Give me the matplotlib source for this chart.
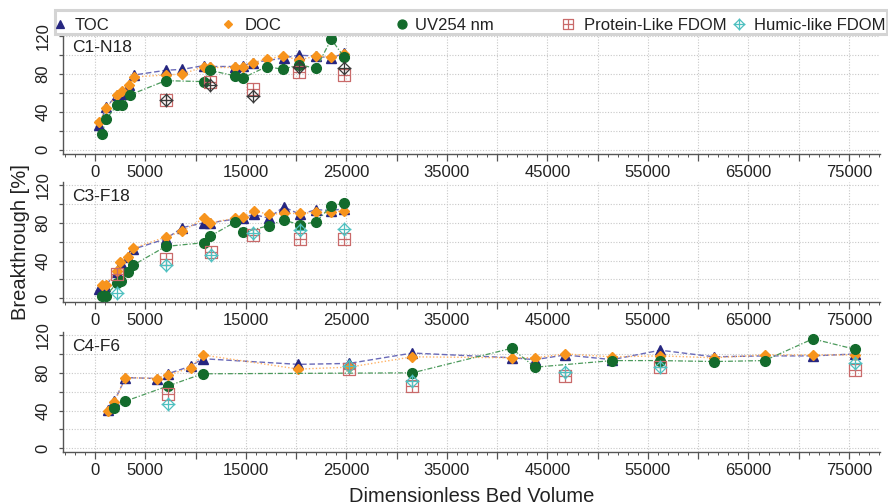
import matplotlib
matplotlib.use("Agg")
import matplotlib.pyplot as plt
from matplotlib.path import Path
from matplotlib.lines import Line2D
from matplotlib.patches import Rectangle
from matplotlib.ticker import MultipleLocator, FuncFormatter

plt.rcParams['font.family'] = ['Liberation Sans', 'DejaVu Sans']

# ---------------- data ----------------
panel_names = ["C1-N18", "C3-F18", "C4-F6"]
series_names = ["TOC", "DOC", "UV254 nm", "Protein-Like FDOM", "Humic-like FDOM"]

# C1-N18
c1_toc_x = [430, 1100, 2230, 2670, 3430, 3900, 7030, 8700, 10850, 11400, 13970, 14730, 15670, 18770, 20270, 22000, 23500, 24770]
c1_toc_y = [26, 45, 58, 59, 68, 79, 84, 85, 89, 88, 88, 89, 92, 97, 100, 99, 97, 102]
c1_doc_x = [430, 1100, 2230, 2670, 3430, 3900, 7030, 8700, 10850, 11400, 13970, 14730, 15670, 17100, 18670, 20270, 22000, 23500, 24770]
c1_doc_y = [29, 44, 58, 62, 68, 77, 79, 80, 88, 87, 87, 87, 92, 96, 99, 95, 99, 98, 101]
c1_uv_x = [670, 1100, 2170, 2670, 3500, 7030, 10830, 11400, 13970, 14730, 17100, 18670, 20270, 22000, 23500, 24770]
c1_uv_y = [16, 32, 47, 47, 58, 73, 72, 84, 78, 76, 88, 85, 90, 86, 117, 98]
c1_fd_x = [7030, 11400, 15670, 20270, 24770]
c1_prot_y = [53, 72, 64, 82, 79]
c1_hum_y = [53, 68, 57, 88, 86]

# C3-F18
c3_toc_x = [430, 1000, 2170, 2570, 3330, 3770, 7030, 8700, 10850, 11400, 13970, 14730, 15770, 17270, 18770, 20370, 22000, 23500, 24770]
c3_toc_y = [10, 13, 28, 37, 44, 52, 63, 75, 80, 80, 84, 85, 89, 85, 97, 89, 94, 93, 95]
c3_doc_x = [670, 1100, 2170, 2500, 3330, 3770, 7030, 8700, 10850, 11400, 13970, 14730, 15770, 17270, 18770, 20370, 22000, 23500, 24770]
c3_doc_y = [14, 14, 29, 38, 44, 53, 65, 71, 85, 80, 85, 86, 93, 89, 90, 90, 91, 91, 93]
c3_uv_x = [670, 1100, 2170, 2570, 3330, 3770, 7030, 10870, 11470, 13970, 14730, 17270, 18770, 20370, 22000, 23500, 24770]
c3_uv_y = [3, 3, 16, 18, 28, 35, 55, 59, 66, 81, 70, 77, 83, 78, 81, 98, 101]
c3_fd_x = [2170, 7030, 11500, 15730, 20370, 24770]
c3_prot_y = [26, 42, 49, 67, 63, 63]
c3_hum_y = [6, 35, 46, 69, 72, 74]

# C4-F6
c4_toc_x = [1330, 1930, 3030, 6170, 7230, 9500, 10700, 20230, 25270, 31570, 41430, 43770, 46770, 51430, 56230, 61570, 66600, 71400, 75600]
c4_toc_y = [41, 50, 75, 74, 79, 87, 95, 89, 90, 101, 96, 94, 99, 94, 104, 97, 98, 98, 100]
c4_doc_x = [1330, 1930, 3030, 6170, 7230, 9500, 10700, 20230, 25270, 31570, 41430, 43770, 46770, 51430, 56230, 61570, 66600, 71400, 75600]
c4_doc_y = [40, 49, 75, 74, 78, 85, 99, 84, 86, 97, 96, 96, 100, 97, 98, 96, 99, 99, 99]
c4_uv_x = [1930, 3030, 7230, 10700, 31570, 41430, 43770, 51430, 56230, 61570, 66600, 71400, 75600]
c4_uv_y = [43, 50, 66, 79, 80, 106, 86, 93, 93, 92, 93, 116, 105]
c4_fd_x = [7230, 25270, 31570, 46770, 56230, 75600]
c4_prot_y = [58, 84, 66, 77, 86, 83]
c4_hum_y = [47, 87, 71, 81, 86, 90]

panels = [
    (c1_toc_x, c1_toc_y, c1_doc_x, c1_doc_y, c1_uv_x, c1_uv_y, c1_fd_x, c1_prot_y, c1_hum_y),
    (c3_toc_x, c3_toc_y, c3_doc_x, c3_doc_y, c3_uv_x, c3_uv_y, c3_fd_x, c3_prot_y, c3_hum_y),
    (c4_toc_x, c4_toc_y, c4_doc_x, c4_doc_y, c4_uv_x, c4_uv_y, c4_fd_x, c4_prot_y, c4_hum_y),
]
humic_colors = ["#3a3a3a", "#4fc0c0", "#4fc0c0"]

# ---------------- styles ----------------
TOC_C = "#262680"
DOC_C = "#f7941d"
UV_C = "#136b2c"
PROT_C = "#c96a6a"
HUM_C = "#4fc0c0"

M, L, C = Path.MOVETO, Path.LINETO, Path.CLOSEPOLY
sq_plus = Path([(-1, -1), (1, -1), (1, 1), (-1, 1), (-1, -1),
                (0, -1), (0, 1), (-1, 0), (1, 0)],
               [M, L, L, L, C, M, L, M, L])
dia_plus = Path([(0, -1), (1, 0), (0, 1), (-1, 0), (0, -1),
                 (0, -1.15), (0, 1.15), (-1.15, 0), (1.15, 0)],
                [M, L, L, L, C, M, L, M, L])

# ---------------- figure ----------------
fig = plt.figure(figsize=(8.88, 5.04), dpi=100)
x0, w, h = 63 / 888, 817 / 888, 120.3 / 504
bottoms = [1 - 153.5 / 504, 1 - 302.3 / 504, 1 - 452.3 / 504]

def xfmt(v, pos):
    v = int(round(v))
    if v == 0 or v % 10000 == 5000:
        return str(v)
    return ""

def yfmt(v, pos):
    v = int(round(v))
    return str(v) if v % 40 == 0 else ""

axes = []
for i, (name, data) in enumerate(zip(panel_names, panels)):
    ax = fig.add_axes([x0, bottoms[i], w, h])
    axes.append(ax)
    tx, ty, dx, dy, ux, uy, fx, py, hy = data
    ax.plot(tx, ty, ls=(0, (4, 2)), lw=1.0, color="#6a6ab8", marker="^", ms=7.5,
            mfc=TOC_C, mec=TOC_C, zorder=3)
    ax.plot(dx, dy, ls=(0, (1, 1.5)), lw=1.0, color="#ffb366", marker="D", ms=5.2,
            mfc=DOC_C, mec=DOC_C, zorder=4)
    ax.plot(ux, uy, ls=(0, (4, 1.5, 1, 1.5)), lw=0.9, color="#4c9a5c", marker="o", ms=7,
            mfc=UV_C, mec=UV_C, zorder=5)
    ax.plot(fx, py, ls="none", marker=sq_plus, ms=8, mfc="none", mec=PROT_C, mew=0.9, zorder=6)
    ax.plot(fx, hy, ls="none", marker=dia_plus, ms=10, mfc="none", mec=humic_colors[i], mew=0.9, zorder=7)

    ax.set_xlim(-3183, 78085)
    ax.set_ylim(-4.2, 123.3)
    ax.xaxis.set_major_locator(MultipleLocator(5000))
    ax.xaxis.set_minor_locator(MultipleLocator(1000))
    ax.xaxis.set_major_formatter(FuncFormatter(xfmt))
    ax.yaxis.set_major_locator(MultipleLocator(20))
    ax.yaxis.set_major_formatter(FuncFormatter(yfmt))
    ax.grid(True, which="major", ls=(0, (1, 1.5)), lw=0.8, color="#c8c8c8")
    ax.set_axisbelow(True)
    for s in ["top", "right"]:
        ax.spines[s].set_visible(False)
    for s in ["left", "bottom"]:
        ax.spines[s].set_color("#555555")
        ax.spines[s].set_linewidth(1.0)
    ax.tick_params(axis="x", which="major", length=5, width=0.9, color="#555555",
                   labelsize=12, pad=3, labelcolor="#222222")
    ax.tick_params(axis="x", which="minor", length=2.5, width=0.7, color="#555555")
    ax.tick_params(axis="y", which="major", length=3, width=0.9, color="#555555",
                   labelsize=12, pad=6, labelrotation=90, labelcolor="#222222")
    for lab in ax.get_yticklabels():
        lab.set_va("center")
    ax.text(0.011, 0.945, name, transform=ax.transAxes, ha="left", va="top",
            fontsize=12.5, color="#222222")

axes[1].set_ylabel("Breakthrough [%]", fontsize=14.5, labelpad=4, color="#222222")
axes[2].set_xlabel("Dimensionless Bed Volume", fontsize=14.5, labelpad=6, color="#222222")

# ---------------- legend (manual layout) ----------------
def fx_(px):
    return px / 888

def fy_(py_):
    return 1 - py_ / 504

fig.add_artist(Rectangle((fx_(55), fy_(34)), fx_(888 - 56), (34 - 10) / 504,
                         transform=fig.transFigure, facecolor="white",
                         edgecolor="#d4d4d4", lw=2.2, zorder=10))
leg_markers = [("^", TOC_C, TOC_C, 6), ("D", DOC_C, DOC_C, 4.5), ("o", UV_C, UV_C, 6.5),
               (sq_plus, "none", PROT_C, 7), (dia_plus, "none", HUM_C, 8.5)]
leg_marker_x = [60, 228, 402, 568, 739]
leg_text_x = [75, 245, 415, 584, 754]
for name, (mk, fc, ec, ms), mx, tx in zip(series_names, leg_markers, leg_marker_x, leg_text_x):
    fig.add_artist(Line2D([fx_(mx)], [fy_(23.5)], transform=fig.transFigure, ls="none",
                          marker=mk, ms=ms, mfc=fc, mec=ec, mew=0.9, zorder=11))
    fig.text(fx_(tx), fy_(25.5), name, ha="left", va="center", fontsize=12,
             color="#222222", zorder=11)

fig.savefig("out.png", dpi=100)
